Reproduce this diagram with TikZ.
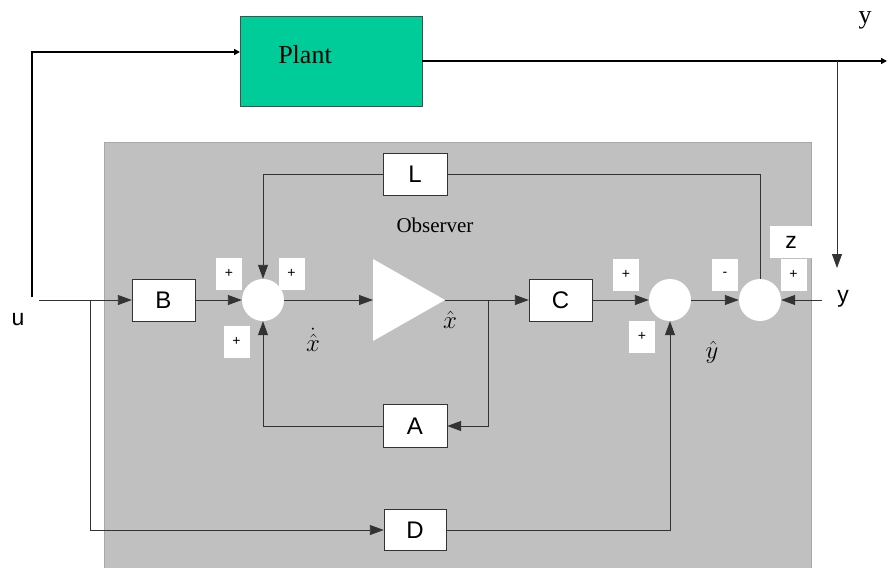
\documentclass[tikz,border=0pt]{standalone}
\usepackage{fontspec}
\setmainfont{Liberation Serif}
\setsansfont{Liberation Sans}
\usetikzlibrary{arrows.meta}
\definecolor{obsgray}{HTML}{C0C0C0}
\definecolor{obsedge}{HTML}{A8A8A8}
\definecolor{plantgreen}{HTML}{00CC99}
\begin{document}
\begin{tikzpicture}[x=1pt,y=-1pt,
  blk/.style={draw=black!80, fill=white, minimum width=63pt, minimum height=42pt, inner sep=0pt,
    font=\sffamily\fontsize{24}{24}\selectfont},
  sumc/.style={circle, fill=white, minimum size=42pt, inner sep=0pt},
  sgn/.style={fill=white, minimum width=26pt, minimum height=32pt, inner sep=0pt,
    font=\sffamily\fontsize{14}{14}\selectfont},
  wire/.style={draw=black!80, line width=0.9pt},
  arr/.style={wire, -{Triangle[length=14pt,width=10pt]}},
  pwire/.style={draw=black, line width=1.6pt},
  parr/.style={pwire, -{Triangle[length=6pt,width=6pt]}},
  lbl/.style={inner sep=0pt, font=\sffamily\fontsize{23}{23}\selectfont},
  slbl/.style={inner sep=0pt, font=\rmfamily\fontsize{21}{21}\selectfont},
  mlbl/.style={inner sep=0pt, font=\fontsize{24}{24}\selectfont}
]
\useasboundingbox (0,0) rectangle (887,568);
% observer region
\fill[obsgray] (104,142) rectangle (811,568);
\draw[obsedge, line width=1pt] (104,568) -- (104,142) -- (811,142) -- (811,568);

% plant
\node[draw=black!70, fill=plantgreen, minimum width=182pt, minimum height=90pt, inner sep=0pt] (plant) at (331,61) {};
\node[inner sep=0pt, font=\rmfamily\fontsize{26}{26}\selectfont] (plantlbl) at (305,55) {Plant};

% blocks
\node[blk] (B) at (163.5,300) {B};
\node[blk] (C) at (560.5,300) {C};
\node[blk, minimum width=64pt, minimum height=43pt] (A) at (415,426) {A};
\node[blk, minimum width=64pt] (L) at (415,174) {L};
\node[blk, minimum width=62pt, minimum height=41pt] (D) at (415,530) {D};

% summing junctions
\node[sumc] (s1) at (263,300) {};
\node[sumc] (s2) at (670,300) {};
\node[sumc] (s3) at (760,300) {};

% integrator triangle
\fill[white] (373,259) -- (445,300) -- (373,341) -- cycle;
\coordinate (triin) at (373,300);
\coordinate (triout) at (445,300);

% helper coordinates
\coordinate (pstart) at (32,297);
\coordinate (pin) at (240,52);
\coordinate (yout) at (887,61);
\coordinate (ytap) at (837,61);
\coordinate (ydown) at (837,268);
\coordinate (ustart) at (39,300);
\coordinate (ubranch) at (90,300);
\coordinate (xbranch) at (488,300);
\coordinate (yin) at (822,300);

% plant wiring
\draw[parr] (pstart) |- (pin);
\draw[parr] (plant.east) -- (yout);
\draw[arr] (ytap) -- (ydown);

% observer wiring
\draw[arr] (ustart) -- (B.west);
\draw[arr] (B.east) -- (s1.west);
\draw[arr] (s1.east) -- (triin);
\draw[arr] (triout) -- (C.west);
\draw[arr] (xbranch) |- (A.east);
\draw[arr] (A.west) -| (s1.south);
\draw[arr] (L.west) -| (s1.north);
\draw[wire] (s3.north) |- (L.east);
\draw[arr] (C.east) -- (s2.west);
\draw[arr] (s2.east) -- (s3.west);
\draw[arr] (yin) -- (s3.east);
\draw[arr] (ubranch) |- (D.west);
\draw[arr] (D.east) -| (s2.south);

% sign boxes
\node[sgn] (p1) at (229,273.5) {+};
\node[sgn] (p2) at (291.5,273.5) {+};
\node[sgn] (p3) at (236.5,341.5) {+};
\node[sgn] (p4) at (626,274.5) {+};
\node[sgn] (p5) at (642,336.5) {+};
\node[sgn] (m1) at (725,274.5) {-};
\node[sgn] (p6) at (793.5,274.5) {+};
\node[fill=white, minimum width=42pt, minimum height=32pt, inner sep=0pt, font=\sffamily\fontsize{23}{23}\selectfont] (z) at (791,242) {z};

% labels
\node[lbl] (u) at (18,320) {u};
\node[lbl] (yr) at (843,299) {y};
\node[inner sep=0pt, font=\rmfamily\fontsize{26}{26}\selectfont] (ytop) at (865,20) {y};
\node[slbl] (obs) at (435,225) {Observer};
\node[mlbl] (xdh) at (313,340) {$\dot{\hat{x}}$};
\node[mlbl] (xh) at (450,320) {$\hat{x}$};
\node[mlbl] (yh) at (712,352) {$\hat{y}$};
\end{tikzpicture}
\end{document}
